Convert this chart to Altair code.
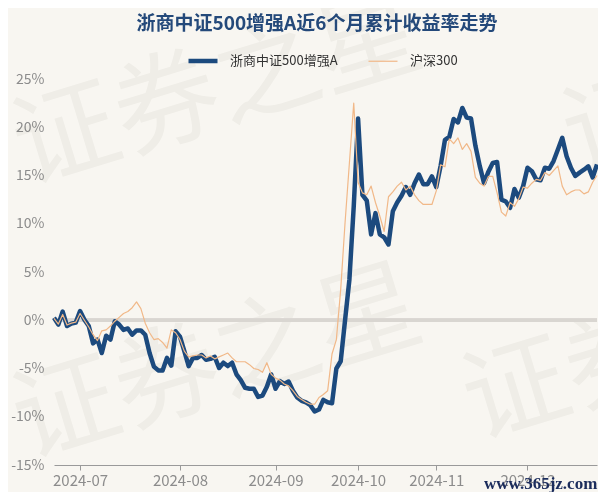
import altair as alt
import pandas as pd

# ---- data ----
start_date = "2024-06-21"
end_date = "2024-12-24"
holidays = ["2024-09-16", "2024-09-17", "2024-10-01", "2024-10-02",
            "2024-10-03", "2024-10-04", "2024-10-07"]
month_ticks = ["2024-07-01", "2024-08-01", "2024-09-02", "2024-10-08",
               "2024-11-01", "2024-12-02"]
y_ticks = [-15, -10, -5, 0, 5, 10, 15, 20, 25]
series_names = ["浙商中证500增强A", "沪深300"]
chart_title = "浙商中证500增强A近6个月累计收益率走势"

fund = [
    0.25, -0.45, 0.9, -0.6, -0.35, -0.25, 0.95, 0.05, -0.6, -2.4,
    -2.0, -3.4, -1.6, -2.0, -0.1, -0.45, -1.0, -0.85, -1.5, -1.05,
    -1.05, -1.5, -3.4, -4.8, -5.2, -5.2, -3.9, -4.7, -1.15, -1.7,
    -3.2, -4.75, -3.9, -3.9, -3.6, -4.1, -4.0, -3.8, -4.95, -4.4,
    -4.75, -4.4, -5.6, -6.2, -7.0, -7.1, -7.1, -7.95, -7.8, -6.9,
    -5.6, -7.1, -6.3, -6.6, -6.35, -7.3, -8.0, -8.35, -8.5, -8.8,
    -9.45, -9.25, -8.25, -8.5, -8.6, -5.0, -4.25, 0.0, 4.2, 11.8,
    20.9, 13.0, 12.4, 8.9, 11.1, 8.9, 8.6, 7.85, 11.3, 12.2,
    12.9, 13.8, 13.0, 14.2, 15.1, 14.1, 14.1, 14.9, 13.8, 16.0,
    18.7, 19.0, 20.85, 20.5, 22.0, 21.0, 20.9, 18.1, 16.0, 14.2,
    15.4, 16.3, 16.4, 12.5, 12.3, 11.65, 13.6, 12.7, 13.9, 15.8,
    15.45, 14.6, 14.5, 15.8, 15.7, 16.5, 17.7, 18.9, 17.0, 15.8,
    14.95, 15.3, 15.6, 15.95, 14.8, 16.15,
]

hs300 = [
    0.2, -0.4, 0.6, -0.5, -0.3, -0.2, 0.7, 0.0, -0.7, -1.5,
    -2.1, -1.1, -1.0, -0.6, -0.1, 0.3, 0.7, 0.9, 1.3, 1.9,
    1.2, -0.3, -1.3, -2.0, -1.9, -2.3, -2.9, -1.0, -1.3, -2.0,
    -3.2, -3.8, -3.7, -3.6, -3.6, -3.9, -3.7, -4.0, -3.8, -3.6,
    -3.4, -3.9, -4.3, -4.3, -4.3, -4.6, -5.0, -5.1, -5.4, -4.4,
    -5.6, -6.0, -6.2, -6.6, -6.8, -7.3, -7.9, -8.2, -8.5, -8.7,
    -8.7, -8.0, -7.7, -7.3, -3.5, -2.0, 3.2, 10.1, 16.3, 22.5,
    14.3, 13.2, 13.0, 13.9, 12.2, 10.8, 9.2, 12.8, 13.3, 13.9,
    14.3, 13.5, 13.9, 13.0, 12.4, 12.0, 12.0, 12.0, 13.4, 16.1,
    15.9, 18.8, 18.3, 18.9, 17.7, 18.3, 17.5, 14.8, 14.2, 13.9,
    14.9, 14.9, 13.2, 11.2, 10.8, 12.2, 11.8, 12.6, 13.8, 13.7,
    14.2, 14.6, 14.5, 15.3, 15.0, 15.5, 16.0, 13.9, 13.0, 13.3,
    13.5, 13.5, 13.1, 13.3, 14.3, 15.0,
]

watermark_text = "证券之星"
site_text = "www.365jz.com"

days = [d.strftime("%Y-%m-%d") for d in pd.bdate_range(start_date, end_date)
        if d.strftime("%Y-%m-%d") not in holidays]
n = min(len(days), len(fund), len(hs300))

df = pd.DataFrame({
    "date": days[:n] * 2,
    "value": fund[:n] + hs300[:n],
    "series": [series_names[0]] * n + [series_names[1]] * n,
})

# ---- styling ----
BG = "#f8f6f1"
BLUE = "#1c4a7e"
ORANGE = "#f1b888"
CJK = "Noto Sans CJK SC"

legend = alt.Legend(
    title=None, orient="none", legendX=132, legendY=-35,
    direction="horizontal", columns=2, symbolType="stroke", symbolSize=841,
    labelFontSize=13, labelColor="#333333", labelFont=CJK,
    labelOffset=10, columnPadding=28,
)

x_enc = alt.X(
    "date:O",
    scale=alt.Scale(type="point", padding=0),
    axis=alt.Axis(
        values=month_ticks, labelExpr="slice(datum.label, 0, 7)",
        labelAngle=0, grid=False, title=None,
        domainColor="#9a9a9a", tickColor="#9a9a9a", tickSize=5,
        labelColor="#8c8c8c", labelFontSize=15, labelFont=CJK, labelPadding=3,
    ),
)
y_enc = alt.Y(
    "value:Q",
    scale=alt.Scale(domain=[-15, 25], nice=False, zero=False),
    axis=alt.Axis(
        values=y_ticks, labelExpr="datum.value + '%'", title=None,
        domain=False, ticks=False, gridDash=[5, 3], gridColor="#d6d3ce",
        labelColor="#8c8c8c", labelFontSize=14, labelFont=CJK, labelPadding=10,
    ),
)
color_enc = alt.Color(
    "series:N",
    scale=alt.Scale(domain=series_names, range=[BLUE, ORANGE]),
    legend=legend,
)
width_enc = alt.StrokeWidth(
    "series:N",
    scale=alt.Scale(domain=series_names, range=[4.5, 1.2]),
    legend=legend,
)

base = alt.Chart(df)

# faint background watermark (multiplied so axis labels stay visible)
wm_df = pd.DataFrame({"t": [watermark_text]})


def wm(px, py):
    return alt.Chart(wm_df).mark_text(
        font=CJK, fontSize=105, color="#f6f6f5", align="left",
        baseline="middle", angle=343, blend="multiply",
    ).encode(text="t:N", x=alt.value(px), y=alt.value(py))


wm_layers = [wm(-37, 74), wm(-37, 348), wm(513, 64), wm(413, 329)]

zero_rule = base.mark_rule(color="#d9d6d1", strokeWidth=3).encode(y=alt.datum(0))

fund_line = base.transform_filter(
    alt.datum.series == series_names[0]
).mark_line(strokeJoin="round").encode(
    x=x_enc, y=y_enc, color=color_enc, strokeWidth=width_enc
)

hs_line = base.transform_filter(
    alt.datum.series == series_names[1]
).mark_line(strokeJoin="round").encode(
    x=x_enc, y=y_enc, color=color_enc, strokeWidth=width_enc
)

site_mark = alt.Chart(pd.DataFrame({"t": [site_text]})).mark_text(
    font="Liberation Serif", fontSize=17, fontWeight="bold", color="#1b2c5c",
    align="left", baseline="middle",
).encode(text="t:N", x=alt.value(430), y=alt.value(405))

title_mark = alt.Chart(pd.DataFrame({"t": [chart_title]})).mark_text(
    font=CJK, fontSize=19, fontWeight="bold", color="#24497a",
    align="center", baseline="middle",
).encode(text="t:N", x=alt.value(263), y=alt.value(-55))

chart = alt.layer(
    *wm_layers, zero_rule, fund_line, hs_line, site_mark, title_mark
).properties(
    width=543,
    height=386,
    autosize=alt.AutoSizeParams(type="none"),
    padding={"left": 46, "top": 71, "right": 1, "bottom": 27},
    background=BG,
).configure_view(stroke=None)

chart.save("out.html", embed_options={"renderer": "svg", "actions": False})
